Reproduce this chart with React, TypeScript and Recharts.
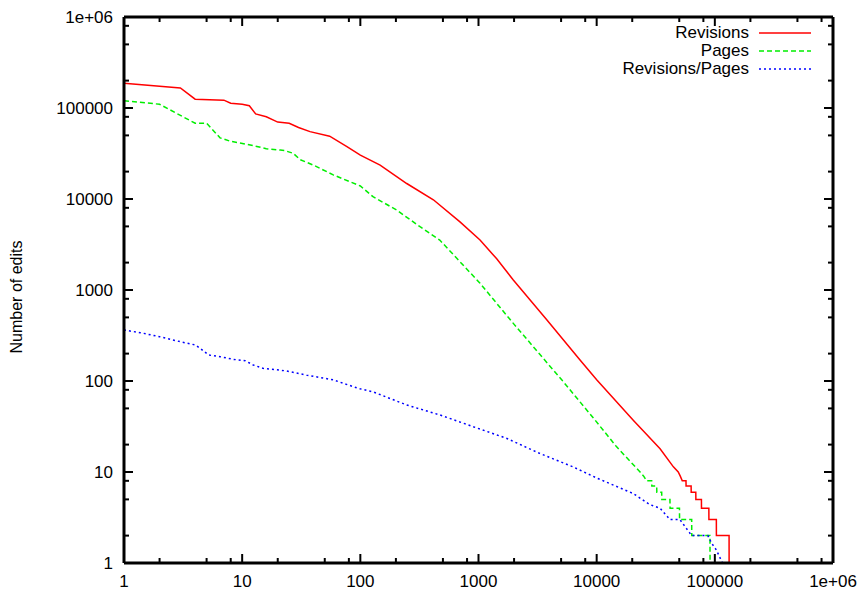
import { LineChart, Line, XAxis, YAxis, Legend } from "recharts";

// rank (x) and edit counts (y)
const revisionsX = [1, 3, 4, 7, 8, 10, 11.5, 13, 16, 20, 25, 30, 37.5, 55, 77, 100, 147, 247, 415, 697, 1030, 1426, 1970, 3780, 7230, 10000, 20400, 34400, 44600, 49000, 51000, 53000, 57000, 57100, 63000, 63100, 69000, 69100, 77000, 77100, 89000, 89100, 103000, 103100, 132000, 132100];
const revisionsY = [187000, 166000, 125000, 122000, 113000, 110000, 106000, 86000, 80000, 70000, 68000, 61000, 55000, 49000, 37600, 30300, 23600, 14800, 9800, 5600, 3540, 2200, 1290, 470, 170, 103, 37, 18, 11.4, 10, 9, 8, 8, 7, 7, 6, 6, 5, 5, 4, 4, 3, 3, 2, 2, 1];

const pagesX = [1, 2, 3, 4, 5, 6.5, 8, 12, 16, 21, 23, 27, 31, 40, 59, 100, 128, 203, 320, 470, 655, 1030, 1970, 3780, 5060, 9680, 14700, 23300, 25000, 26500, 29200, 29300, 32200, 32300, 35500, 35600, 41700, 41800, 50200, 50300, 63700, 63800, 91000, 91100];
const pagesY = [120000, 110000, 83000, 68000, 68000, 47000, 43000, 39000, 35700, 34500, 34000, 31800, 27000, 23600, 18400, 13900, 10600, 7560, 4960, 3540, 2230, 1186, 430, 160, 103, 37.3, 19, 10, 9, 8, 8, 7, 7, 6, 6, 5, 5, 4, 4, 3, 3, 2, 2, 1];

const ratioX = [1, 1.37, 2, 3, 4, 4.4, 5.2, 6.5, 8.4, 10.6, 12.4, 15, 23.8, 35, 59, 96, 128, 247, 473, 900, 1720, 3300, 6300, 10200, 20400, 28000, 34400, 41700, 50600, 63700, 87300, 94000, 103000, 116000];
const ratioY = [363, 340, 307, 270, 249, 229, 193, 185, 173, 167, 150, 138, 129, 116, 103, 83, 76, 54.5, 42.3, 31.5, 23.5, 16, 11.4, 8.5, 5.8, 4.4, 4.0, 3.0, 3.0, 2.0, 2.0, 1.65, 1.39, 1.0];

const decades = [1, 10, 100, 1000, 10000, 100000, 1000000];
const decadeLabels = ["1", "10", "100", "1000", "10000", "100000", "1e+06"];
const minorSteps = [2, 5, 8];

const seriesNames = ["Revisions", "Pages", "Revisions/Pages"];

const zip = (xs: number[], ys: number[]) => xs.map((x, i) => ({ x, y: ys[i] }));

const revisions = zip(revisionsX, revisionsY);
const pages = zip(pagesX, pagesY);
const ratio = zip(ratioX, ratioY);

const ticks: number[] = [];
decades.forEach((d, i) => {
  ticks.push(d);
  if (i < decades.length - 1) minorSteps.forEach((m) => ticks.push(d * m));
});

const FONT = "'Liberation Sans', Arial, Helvetica, sans-serif";

const majorIndex = (v: number) => decades.findIndex((d) => Math.abs(d - v) / d < 1e-9);

const BottomTick = (props: any) => {
  const { x, y, payload } = props;
  const i = majorIndex(payload.value);
  return (
    <g>
      <line x1={x} x2={x} y1={y} y2={y - (i >= 0 ? 9 : 5)} stroke="#000" strokeWidth={2} />
      {i >= 0 && (
        <text x={x} y={y + 24} textAnchor="middle" fontSize={17} fill="#000" fontFamily={FONT}>
          {decadeLabels[i]}
        </text>
      )}
    </g>
  );
};

const TopTick = (props: any) => {
  const { x, y, payload } = props;
  const i = majorIndex(payload.value);
  return <line x1={x} x2={x} y1={y} y2={y + (i >= 0 ? 9 : 5)} stroke="#000" strokeWidth={2} />;
};

const LeftTick = (props: any) => {
  const { x, y, payload } = props;
  const i = majorIndex(payload.value);
  return (
    <g>
      <line x1={x} x2={x + (i >= 0 ? 9 : 5)} y1={y} y2={y} stroke="#000" strokeWidth={2} />
      {i >= 0 && (
        <text x={x - 11} y={y + 6} textAnchor="end" fontSize={17} fill="#000" fontFamily={FONT}>
          {decadeLabels[i]}
        </text>
      )}
    </g>
  );
};

const RightTick = (props: any) => {
  const { x, y, payload } = props;
  const i = majorIndex(payload.value);
  return <line x1={x} x2={x - (i >= 0 ? 9 : 5)} y1={y} y2={y} stroke="#000" strokeWidth={2} />;
};

const legendItems = [
  { name: seriesNames[0], color: "#ff0000", dash: undefined },
  { name: seriesNames[1], color: "#00ee00", dash: "5 3" },
  { name: seriesNames[2], color: "#0000ff", dash: "2 3" },
];

const renderLegend = () => (
  <div style={{ fontFamily: FONT, fontSize: 17, color: "#000" }}>
    {legendItems.map((it) => (
      <div key={it.name} style={{ display: "flex", alignItems: "center", height: 18 }}>
        <span style={{ width: 149, textAlign: "right", lineHeight: "18px" }}>{it.name}</span>
        <svg width={62} height={18} style={{ marginLeft: 10 }}>
          <line x1={0} x2={52} y1={9} y2={9} stroke={it.color} strokeWidth={1.5} strokeDasharray={it.dash} />
        </svg>
      </div>
    ))}
  </div>
);

const axisLine = { stroke: "#000", strokeWidth: 3 };

export default function App() {
  return (
    <div style={{ position: "absolute", left: 0, top: 0, width: 863, height: 594, background: "#fff", fontFamily: FONT }}>
      <LineChart width={863} height={594} margin={{ top: 16, right: 29, bottom: 0, left: 0 }}>
        <XAxis
          xAxisId="bottom"
          dataKey="x"
          type="number"
          scale="log"
          domain={[1, 1000000]}
          allowDataOverflow
          ticks={ticks}
          interval={0}
          height={31}
          tickSize={0}
          tickMargin={0}
          tickLine={false}
          axisLine={axisLine}
          tick={BottomTick}
        />
        <XAxis
          xAxisId="top"
          orientation="top"
          dataKey="x"
          type="number"
          scale="log"
          domain={[1, 1000000]}
          allowDataOverflow
          ticks={ticks}
          interval={0}
          height={1}
          tickSize={0}
          tickMargin={0}
          tickLine={false}
          axisLine={axisLine}
          tick={TopTick}
        />
        <YAxis
          yAxisId="left"
          type="number"
          scale="log"
          domain={[1, 1000000]}
          allowDataOverflow
          ticks={ticks}
          interval={0}
          width={124}
          tickSize={0}
          tickMargin={0}
          tickLine={false}
          axisLine={axisLine}
          tick={LeftTick}
          label={{
            value: "Number of edits",
            angle: -90,
            position: "insideLeft",
            offset: 0,
            content: (p: any) => (
              <text
                x={22}
                y={297}
                transform="rotate(-90 22 297)"
                textAnchor="middle"
                fontSize={16}
                fill="#000"
                fontFamily={FONT}
              >
                {p.value}
              </text>
            ),
          }}
        />
        <YAxis
          yAxisId="right"
          orientation="right"
          type="number"
          scale="log"
          domain={[1, 1000000]}
          allowDataOverflow
          ticks={ticks}
          interval={0}
          width={1}
          tickSize={0}
          tickMargin={0}
          tickLine={false}
          axisLine={axisLine}
          tick={RightTick}
        />
        <Legend
          layout="vertical"
          align="center"
          verticalAlign="middle"
          content={renderLegend}
          wrapperStyle={{ left: 600, top: 24, width: 230, height: 56 }}
        />
        <Line
          xAxisId="bottom"
          yAxisId="left"
          data={revisions}
          dataKey="y"
          name={seriesNames[0]}
          type="linear"
          stroke="#ff0000"
          strokeWidth={1.5}
          dot={false}
          activeDot={false}
          isAnimationActive={false}
        />
        <Line
          xAxisId="bottom"
          yAxisId="left"
          data={pages}
          dataKey="y"
          name={seriesNames[1]}
          type="linear"
          stroke="#00ee00"
          strokeWidth={1.5}
          strokeDasharray="5 3"
          dot={false}
          activeDot={false}
          isAnimationActive={false}
        />
        <Line
          xAxisId="bottom"
          yAxisId="left"
          data={ratio}
          dataKey="y"
          name={seriesNames[2]}
          type="linear"
          stroke="#0000ff"
          strokeWidth={1.5}
          strokeDasharray="2 3"
          dot={false}
          activeDot={false}
          isAnimationActive={false}
        />
      </LineChart>
    </div>
  );
}
